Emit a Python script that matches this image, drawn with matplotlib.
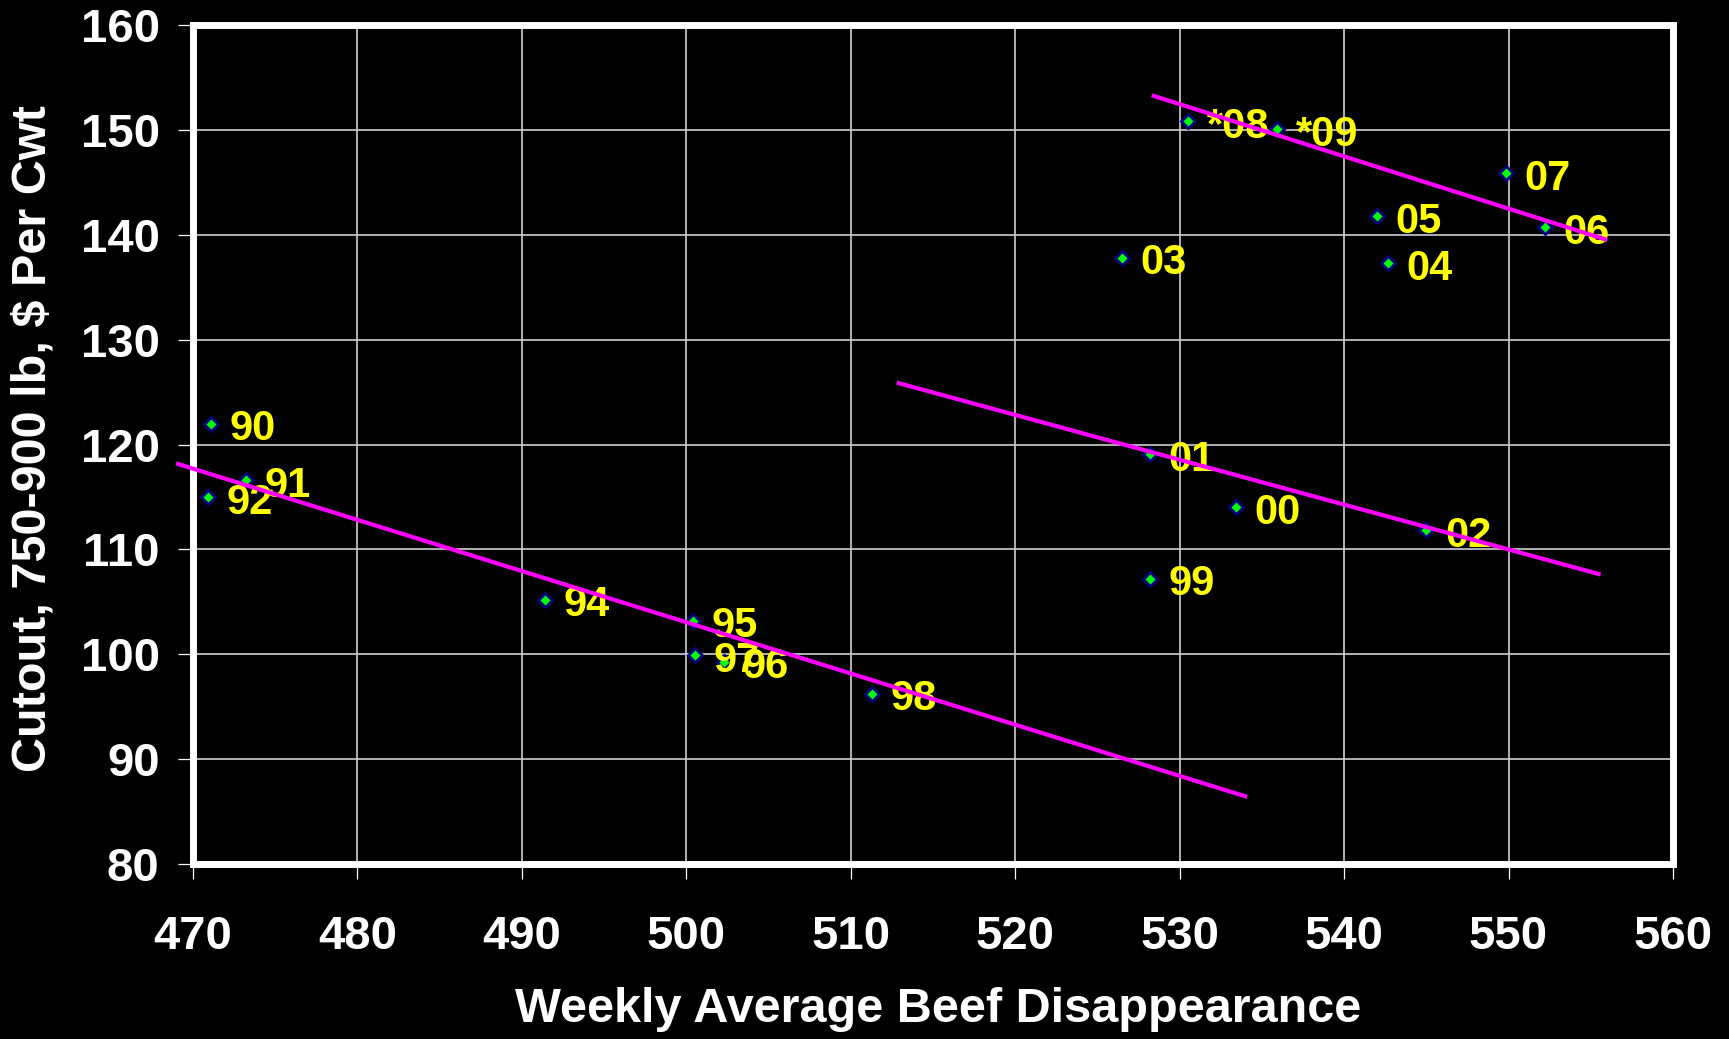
import matplotlib
matplotlib.use("Agg")
import matplotlib.pyplot as plt

plt.rcParams['font.family'] = ['Liberation Sans', 'DejaVu Sans']
plt.rcParams['font.weight'] = 'bold'

# Annual observations: weekly beef disappearance vs. cutout value
years = ["90", "91", "92", "94", "95", "97", "96", "98",
         "99", "00", "01", "02", "03", "04", "05", "06", "07", "*08", "*09"]
disappearance = [471.1, 473.2, 470.9, 491.4, 500.4, 500.5, 502.3, 511.3,
                 528.2, 533.4, 528.2, 545.0, 526.5, 542.65, 542.0, 552.2, 549.85, 530.5, 535.9]
cutout = [122.0, 116.6, 115.0, 105.2, 103.2, 99.9, 99.3, 96.25,
          107.2, 114.0, 119.1, 111.8, 137.8, 137.3, 141.8, 140.7, 145.9, 150.85, 150.05]

# Trend segments for each period (start/end x and y)
trend_x = [[468.97, 534.1], [512.8, 555.6], [528.3, 556.0]]
trend_y = [[118.2, 86.4], [125.9, 107.6], [153.3, 139.5]]

x_ticks = list(range(470, 561, 10))
y_ticks = list(range(80, 161, 10))

W, H = 1729, 1039
fig = plt.figure(figsize=(W / 100, H / 100), dpi=100, facecolor='black')
ax = fig.add_axes([193 / W, 1 - 864 / H, 1480 / W, 839 / H])
ax.set_facecolor('black')

ax.set_xlim(470, 560)
ax.set_ylim(80, 160)
ax.set_xticks(x_ticks)
ax.set_yticks(y_ticks)
ax.grid(True, color='#cfcfcf', lw=1.2)
ax.set_axisbelow(True)

for s in ax.spines.values():
    s.set_color('white')
    s.set_linewidth(5)

ax.tick_params(axis='both', colors='white', length=11, width=0.9,
               direction='out', labelsize=34)
ax.tick_params(axis='x', pad=26)
ax.tick_params(axis='y', pad=13)
for lab in ax.get_xticklabels() + ax.get_yticklabels():
    lab.set_fontweight('bold')

# Year markers
ax.plot(disappearance, cutout, linestyle='none', marker='D', ms=7,
        mfc='#00ff00', mec='#000080', mew=2.0, zorder=3)

# Year labels
for xv, yv, t in zip(disappearance, cutout, years):
    ax.annotate(t, (xv, yv), xytext=(13.5, -12), textcoords='offset points',
                ha='left', va='baseline', color='#ffff00', fontsize=30,
                fontweight='bold', zorder=4)

# Trend lines
for tx, ty in zip(trend_x, trend_y):
    ax.plot(tx, ty, color='#ff00ff', lw=3, zorder=5, clip_on=False,
            solid_capstyle='butt')

fig.text(938 / W, 1 - 1009 / H, 'Weekly Average Beef Disappearance',
         ha='center', va='center', color='white', fontsize=35, fontweight='bold')
fig.text(33 / W, 1 - 439 / H, 'Cutout, 750-900 lb, $ Per Cwt',
         ha='center', va='center', rotation=90, color='white',
         fontsize=35, fontweight='bold')

fig.savefig('out.png', dpi=100, facecolor='black')
